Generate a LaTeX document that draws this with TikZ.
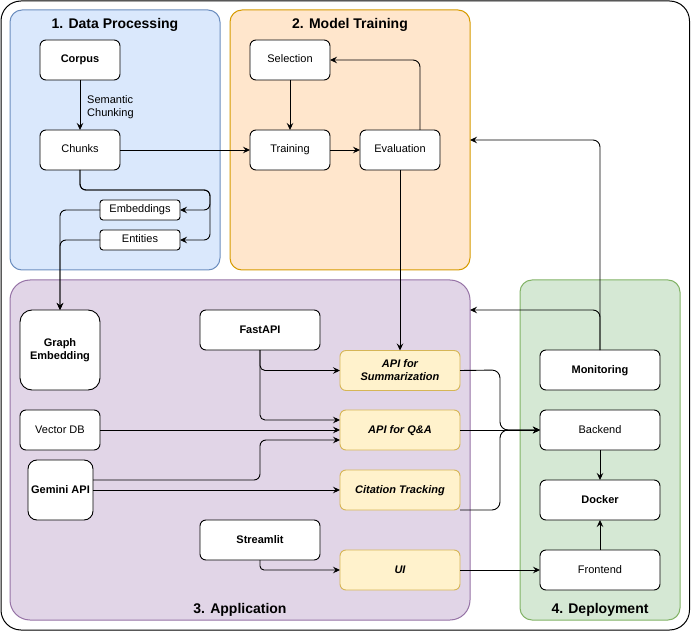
\documentclass[tikz,border=0pt]{standalone}
\usepackage{fontspec}
\setmainfont{Liberation Sans}
\usetikzlibrary{arrows.meta}
\definecolor{gAf}{HTML}{DAE8FC}\definecolor{gAs}{HTML}{6C8EBF}
\definecolor{gBf}{HTML}{FFE6CC}\definecolor{gBs}{HTML}{D79B00}
\definecolor{gCf}{HTML}{E1D5E7}\definecolor{gCs}{HTML}{9673A6}
\definecolor{gDf}{HTML}{D5E8D4}\definecolor{gDs}{HTML}{82B366}
\definecolor{yf}{HTML}{FFF2CC}\definecolor{ys}{HTML}{D6B656}
\begin{document}
\begin{tikzpicture}[x=1pt,y=-1pt,
  grp/.style={rounded corners=12pt, line width=1pt, inner sep=0pt, outer sep=0pt},
  ttl/.style={font=\fontsize{14}{16}\selectfont\bfseries, inner sep=0pt, text height=10pt, text depth=3pt},
  box/.style={draw=black, fill=white, rounded corners=6pt, line width=0.9pt, minimum width=80pt, minimum height=40pt, inner sep=1pt, outer sep=0pt, align=center, font=\fontsize{11}{13}\selectfont, text height=8pt, text depth=2pt},
  multi/.style={text height=, text depth=},
  bbox/.style={box, font=\fontsize{11}{13}\selectfont\bfseries},
  sbox/.style={box, minimum height=20pt, rounded corners=3pt},
  wide/.style={minimum width=120pt},
  api/.style={box, wide, fill=yf, draw=ys, font=\fontsize{11}{13}\selectfont\bfseries\itshape},
  lbl/.style={font=\fontsize{11}{13}\selectfont, align=left, inner sep=0pt},
  arr/.style={-{Stealth[length=7pt,width=6.5pt,inset=2.5pt]}, line width=0.9pt, rounded corners=7pt}
]
\useasboundingbox (0,0) rectangle (691,631);
\draw[line width=1pt, fill=white, rounded corners=20pt] (1,1) rectangle (689.5,630);

% groups
\node[grp, fill=gAf, draw=gAs, minimum width=210pt, minimum height=260pt] (g1) at (115,140) {};
\node[grp, fill=gBf, draw=gBs, minimum width=240pt, minimum height=260pt] (g2) at (350,140) {};
\node[grp, fill=gCf, draw=gCs, minimum width=460pt, minimum height=340pt, rounded corners=20pt] (g3) at (240,450) {};
\node[grp, fill=gDf, draw=gDs, minimum width=160pt, minimum height=340pt] (g4) at (600,450) {};
\node[ttl] (t1) at (115,25) {1. Data Processing};
\node[ttl] (t2) at (350,25) {2. Model Training};
\node[ttl] (t3) at (240,610) {3. Application};
\node[ttl] (t4) at (600,610) {4. Deployment};

% nodes
\node[bbox] (corpus) at (80,60) {Corpus};
\node[box] (chunks) at (80,150) {Chunks};
\node[sbox] (emb) at (140,210) {Embeddings};
\node[sbox] (ent) at (140,240) {Entities};
\node[box] (sel) at (290,60) {Selection};
\node[box] (train) at (290,150) {Training};
\node[box] (eval) at (400,150) {Evaluation};
\node[bbox, multi, minimum height=80pt, rounded corners=12pt] (graph) at (60,350) {Graph\\Embedding};
\node[box] (vdb) at (60,430) {Vector DB};
\node[bbox, minimum width=65pt, minimum height=60pt, rounded corners=9pt] (gem) at (60.5,490) {Gemini API};
\node[bbox, wide] (fast) at (260,330) {FastAPI};
\node[bbox, wide] (stream) at (260,540) {Streamlit};
\node[api, multi] (summ) at (400,370.5) {API for\\Summarization};
\node[api] (qa) at (400,430) {API for Q\&A};
\node[api] (cit) at (400,490) {Citation Tracking};
\node[api] (ui) at (400,570) {UI};
\node[bbox, wide] (mon) at (600,370) {Monitoring};
\node[box, wide] (back) at (600,430) {Backend};
\node[bbox, wide] (dock) at (600,500) {Docker};
\node[box, wide] (front) at (600,570) {Frontend};
\coordinate (g3in) at (470,310);

% connectors
\draw[arr] (corpus) -- (chunks);
\node[lbl, anchor=west] (semlbl) at (87,107) {Semantic\\Chunking};
\draw[arr, rounded corners=6pt] (chunks.south) -- (80,190) -- (210,190) -- (210,210) -- (emb.east);
\draw[arr, rounded corners=6pt] (chunks.south) -- (80,190) -- (210,190) -- (210,240) -- (ent.east);
\draw[arr, rounded corners=6pt] (emb.west) -- (60,210) -- (graph.north);
\draw[arr, rounded corners=6pt] (ent.west) -- (60,240) -- (graph.north);
\draw[arr] (chunks) -- (train);
\draw[arr] (sel) -- (train);
\draw[arr] (train) -- (eval);
\draw[arr] ([xshift=20pt]eval.north) |- (sel.east);
\draw[arr] (eval) -- (eval |- summ.north);
\draw[arr] (mon.north) |- (g2.east);
\draw[arr] (mon.north) |- (g3in);
\draw[arr, rounded corners=5pt] (fast.south) |- (summ.west);
\draw[arr, rounded corners=5pt] (fast.south) |- ([yshift=10pt]qa.west);
\draw[arr] (vdb) -- (qa);
\draw[arr, rounded corners=6pt] ([yshift=10pt]gem.east) -- (260,480) |- ([yshift=-10pt]qa.west);
\draw[arr] (gem) -- (cit);
\draw[arr, rounded corners=4pt] (stream.south) |- (ui.west);
\draw[arr, rounded corners=8pt] (summ.east) -- (500,370) -- (500,430) -- (back.west);
\draw[arr] (qa) -- (back);
\draw[arr, rounded corners=8pt] (cit.south east) -- (500,510) -- (500,430) -- (back.west);
\draw[arr] (ui) -- (front);
\draw[arr] (back) -- (dock);
\draw[arr] (front) -- (dock);
\end{tikzpicture}
\end{document}
